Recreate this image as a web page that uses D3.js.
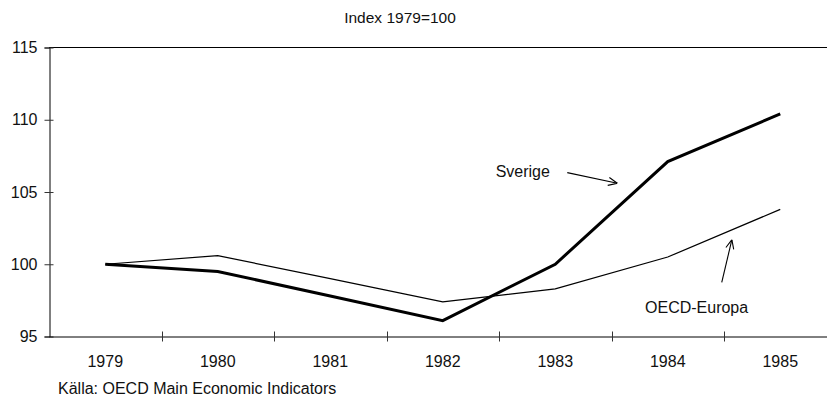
<!DOCTYPE html>
<html>
<head>
<meta charset="utf-8">
<script src="https://cdn.jsdelivr.net/npm/d3@7"></script>
<style>
  body { margin: 0; background: #fff; }
  svg { display: block; font-family: Arial, "Liberation Sans", sans-serif; }
</style>
</head>
<body>
<svg width="827" height="403"></svg>
<script>
// data
const years = ["1979", "1980", "1981", "1982", "1983", "1984", "1985"];
const sverige = [100, 99.5, 97.8, 96.1, 100, 107.1, 110.4];
const oecdEuropa = [100, 100.6, 99.0, 97.4, 98.3, 100.5, 103.8];
const yTicks = [95, 100, 105, 110, 115];

// labels with arrows, in (year index, value) units
const notes = [
  {text: "Sverige", tx: 3.47, ty: 106.06, from: [4.107, 106.34], to: [4.552, 105.6]},
  {text: "OECD-Europa", tx: 4.798, ty: 96.61, from: [5.48, 98.74], to: [5.57, 101.7]}
];

const svg = d3.select("svg");
const font = "Arial, 'Liberation Sans', sans-serif";

const x = d3.scaleBand().domain(years).range([49, 836.5]);
const y = d3.scaleLinear().domain([95, 115]).range([336.5, 47.5]);
// continuous position by year index, for notes
const xi = i => x(years[0]) + x.bandwidth() / 2 + i * x.step();

// top line at 115
svg.append("line")
    .attr("x1", x.range()[0]).attr("x2", x.range()[1])
    .attr("y1", y(115)).attr("y2", y(115))
    .attr("stroke", "#000").attr("stroke-width", 1);

// y axis
const axisLeft = d3.axisLeft(y).tickValues(yTicks).tickSize(5).tickPadding(7);
const gy = svg.append("g").attr("transform", "translate(49.5,0)").call(axisLeft);
gy.select(".domain").attr("stroke", "#000");
gy.selectAll(".tick line").attr("x1", -5).attr("x2", 4).attr("stroke", "#333");
gy.selectAll("text").attr("font-size", 16).attr("fill", "#111").attr("font-family", font);

// x axis, labels centred in bands, ticks on band edges
const axisBottom = d3.axisBottom(x).tickSize(0).tickPadding(19);
const gx = svg.append("g").attr("transform", `translate(0,${y(95)})`).call(axisBottom);
gx.select(".domain").attr("stroke", "#000");
gx.selectAll("text").attr("font-size", 16).attr("fill", "#111").attr("font-family", font);
gx.selectAll(".edge")
    .data(years.slice(1))
    .join("line")
    .attr("class", "edge")
    .attr("x1", d => Math.round(x(d)) + 0.5).attr("x2", d => Math.round(x(d)) + 0.5)
    .attr("y1", -5).attr("y2", 5)
    .attr("stroke", "#333");

// lines
const line = d3.line()
    .x((d, i) => x(years[i]) + x.bandwidth() / 2)
    .y(d => y(d));

svg.append("path").datum(oecdEuropa)
    .attr("d", line).attr("fill", "none")
    .attr("stroke", "#000").attr("stroke-width", 1.2);

svg.append("path").datum(sverige)
    .attr("d", line).attr("fill", "none")
    .attr("stroke", "#000").attr("stroke-width", 3);

// arrowhead
svg.append("defs").append("marker")
    .attr("id", "arr")
    .attr("viewBox", "0 0 10 10")
    .attr("refX", 10).attr("refY", 5)
    .attr("markerWidth", 10).attr("markerHeight", 10)
    .attr("markerUnits", "userSpaceOnUse")
    .attr("orient", "auto")
    .append("path")
    .attr("d", "M1,1 L10,5 L1,9")
    .attr("fill", "none").attr("stroke", "#000").attr("stroke-width", 1.1);

const g = svg.append("g");
g.selectAll("text.note")
    .data(notes)
    .join("text")
    .attr("class", "note")
    .attr("x", d => xi(d.tx)).attr("y", d => y(d.ty))
    .attr("font-size", 16).attr("fill", "#111")
    .text(d => d.text);
g.selectAll("line.arrow")
    .data(notes)
    .join("line")
    .attr("class", "arrow")
    .attr("x1", d => xi(d.from[0])).attr("y1", d => y(d.from[1]))
    .attr("x2", d => xi(d.to[0])).attr("y2", d => y(d.to[1]))
    .attr("stroke", "#000").attr("stroke-width", 1.1)
    .attr("marker-end", "url(#arr)");

// subtitle and source
svg.append("text")
    .attr("x", 400).attr("y", 23)
    .attr("text-anchor", "middle")
    .attr("font-size", 15.5).attr("fill", "#111")
    .text("Index 1979=100");

svg.append("text")
    .attr("x", 58).attr("y", 394)
    .attr("font-size", 16).attr("fill", "#111")
    .text("Källa: OECD Main Economic Indicators");
</script>
</body>
</html>
